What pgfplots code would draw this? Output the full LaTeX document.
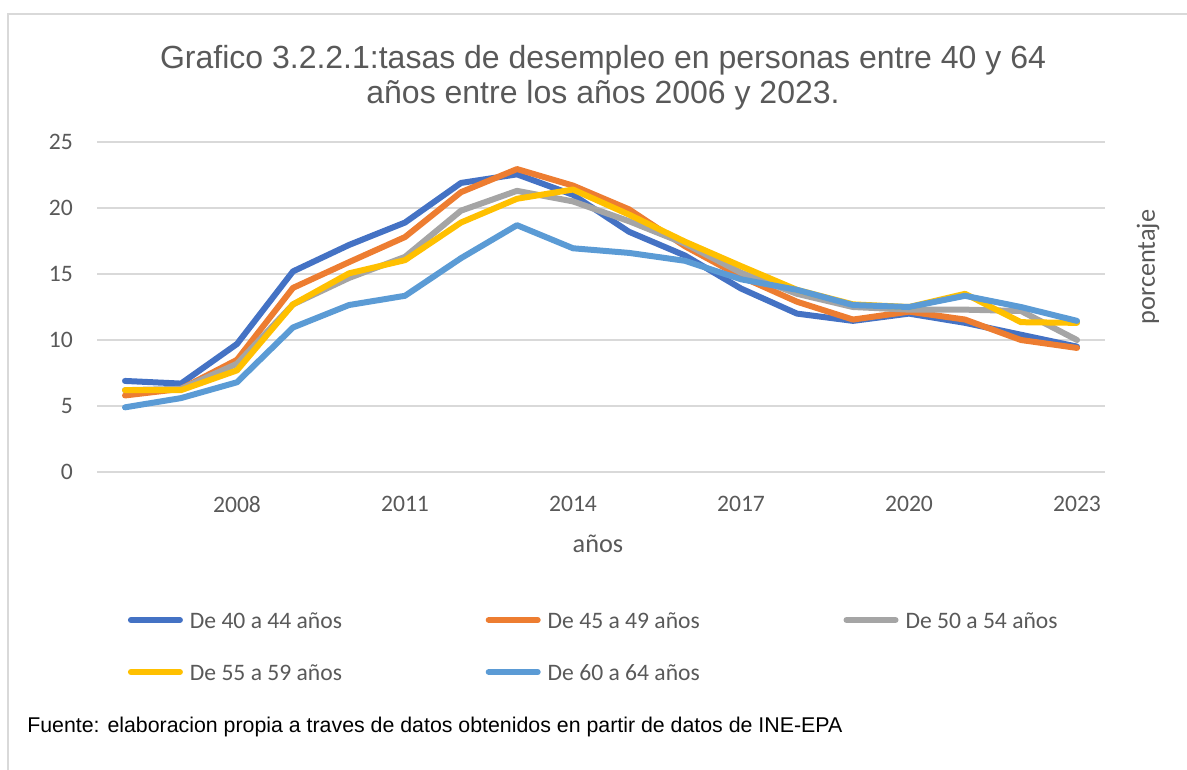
\documentclass[border=0pt]{standalone}
\usepackage{fontspec}
\setmainfont{Liberation Sans}
\newfontfamily\carlito{Carlito}
\usepackage{pgfplots}
\pgfplotsset{compat=1.18}
\definecolor{cA}{HTML}{4472C4}
\definecolor{cB}{HTML}{ED7D31}
\definecolor{cC}{HTML}{A5A5A5}
\definecolor{cD}{HTML}{FFC000}
\definecolor{cE}{HTML}{5B9BD5}
\definecolor{txt}{HTML}{595959}
\definecolor{gridc}{HTML}{D9D9D9}
\begin{document}
\begin{tikzpicture}
\useasboundingbox (0,0) rectangle (890.25pt,-576.75pt);
\draw[gridc, line width=1.3pt] (6pt,-590pt) -- (6pt,-10.5pt) -- (900pt,-10.5pt);
\begin{axis}[
  at={(72.75pt,-354pt)}, anchor=south west,
  scale only axis, width=756pt, height=247.5pt,
  xmin=2005.5, xmax=2023.5, ymin=0, ymax=25,
  xtick={2008,2011,2014,2017,2020,2023},
  ytick={0,5,10,15,20,25},
  axis line style={draw=none}, tick style={draw=none},
  xmajorgrids=false, ymajorgrids=true, grid style={color=gridc, line width=1.5pt},
  /pgf/number format/assume math mode=true,
  /pgf/number format/1000 sep={},
  tick label style={font=\carlito\fontsize{17.7}{20}\selectfont, text=txt},
  yticklabel style={inner sep=0pt, xshift=-18pt},
  xticklabel style={inner sep=0pt, yshift=-18pt},
  xlabel={años}, ylabel={porcentaje},
  label style={font=\carlito\fontsize{19.7}{22}\selectfont, text=txt},
  xlabel style={at={(axis description cs:0.497,-0.218)}, anchor=center},
  ylabel style={at={(axis description cs:1.0427,0.621)}, anchor=center},
  title={Grafico 3.2.2.1:tasas de desempleo en personas entre 40 y 64\\años entre los años 2006 y 2023.},
  title style={at={(axis description cs:0.502,1.27)}, anchor=north, align=center, inner sep=0pt, font=\fontsize{24}{26.25}\selectfont, text=txt},
  every axis plot/.append style={line width=4.5pt, line cap=round, line join=round},
  legend columns=3,
  legend cell align=left,
  legend image code/.code={\draw[#1,line width=4.5pt,line cap=round] (2.25pt,0pt) -- (39pt,0pt); \path (0pt,0pt) (41.25pt,0pt);},
  legend style={at={(axis description cs:0.0277,-0.4242)}, anchor=north west, draw=none, fill=none,
    inner sep=0pt, outer sep=0pt, row sep=27pt,
    font=\carlito\fontsize{17.7}{20}\selectfont, text=txt,
    nodes={inner sep=0pt, text height=12pt, text depth=0pt},
    /tikz/every odd column/.append style={column sep=3pt},
    /tikz/every even column/.append style={column sep=105.5pt}},
]
\addplot[cA] coordinates {(2006,6.9)(2007,6.7)(2008,9.7)(2009,15.2)(2010,17.2)(2011,18.9)(2012,21.9)(2013,22.55)(2014,21.0)(2015,18.2)(2016,16.4)(2017,13.9)(2018,12.0)(2019,11.45)(2020,12.0)(2021,11.3)(2022,10.4)(2023,9.5)};
\addlegendentry{De 40 a 44 años}
\addplot[cB] coordinates {(2006,5.8)(2007,6.3)(2008,8.5)(2009,13.95)(2010,15.9)(2011,17.8)(2012,21.2)(2013,22.95)(2014,21.7)(2015,19.9)(2016,17.1)(2017,14.8)(2018,12.9)(2019,11.55)(2020,12.15)(2021,11.55)(2022,10.0)(2023,9.4)};
\addlegendentry{De 45 a 49 años}
\addplot[cC] coordinates {(2006,6.2)(2007,6.3)(2008,8.2)(2009,12.7)(2010,14.7)(2011,16.3)(2012,19.8)(2013,21.3)(2014,20.5)(2015,19.0)(2016,17.3)(2017,15.1)(2018,13.5)(2019,12.5)(2020,12.3)(2021,12.3)(2022,12.2)(2023,10.0)};
\addlegendentry{De 50 a 54 años}
\addplot[cD] coordinates {(2006,6.2)(2007,6.2)(2008,7.7)(2009,12.7)(2010,15.05)(2011,16.05)(2012,18.9)(2013,20.7)(2014,21.4)(2015,19.5)(2016,17.45)(2017,15.6)(2018,13.8)(2019,12.7)(2020,12.5)(2021,13.5)(2022,11.35)(2023,11.3)};
\addlegendentry{De 55 a 59 años}
\addplot[cE] coordinates {(2006,4.9)(2007,5.6)(2008,6.8)(2009,10.95)(2010,12.65)(2011,13.35)(2012,16.2)(2013,18.7)(2014,16.95)(2015,16.6)(2016,16.0)(2017,14.6)(2018,13.8)(2019,12.65)(2020,12.5)(2021,13.35)(2022,12.5)(2023,11.45)};
\addlegendentry{De 60 a 64 años}
\end{axis}
\node[anchor=west, inner sep=0pt, font=\fontsize{16}{18}\selectfont] at (20.25pt,-545.25pt) {Fuente: elaboracion propia a traves de datos obtenidos en partir de datos de INE-EPA};
\end{tikzpicture}
\end{document}
